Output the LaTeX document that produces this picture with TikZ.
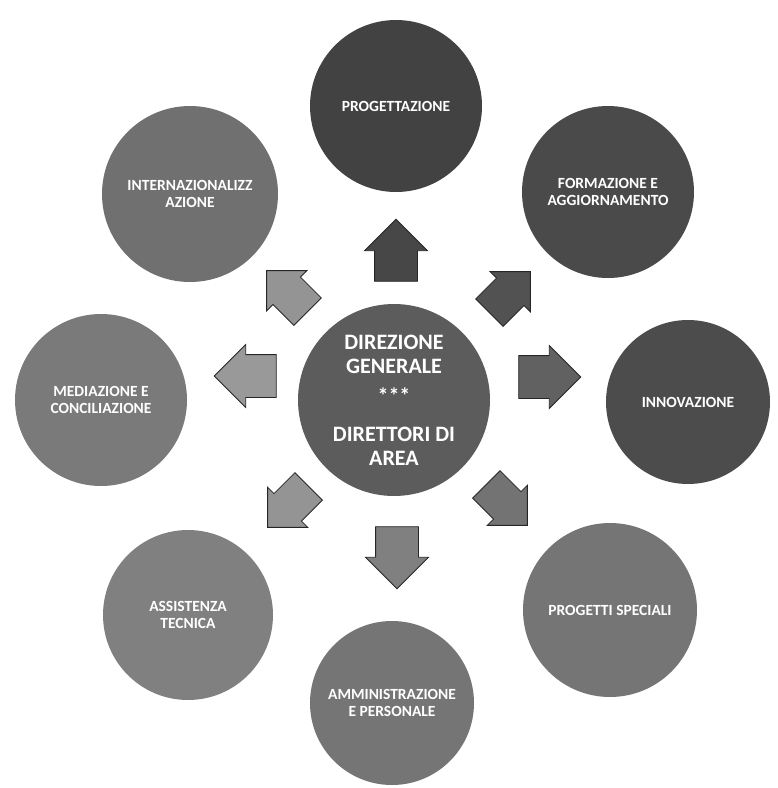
\documentclass[tikz,border=0pt]{standalone}
\usepackage{fontspec}
\setmainfont{Carlito}
\usetikzlibrary{shapes.arrows}

\tikzset{
  area/.style={circle, minimum size=172pt, inner sep=0pt, text=white, align=center,
    font=\bfseries\fontsize{15.5}{17}\selectfont},
  freccia/.style={single arrow, single arrow head extend=10pt, minimum height=62pt,
    inner xsep=0pt, inner ysep=21pt, draw=black!85, line width=0.8pt},
  diag/.style={freccia, minimum height=58pt, inner ysep=19pt, single arrow head extend=9pt},
}

\begin{document}
\begin{tikzpicture}[x=1pt,y=-1pt]
  \useasboundingbox (0,0) rectangle (778,788);

  % centro
  \node[area, fill=black!64, minimum size=192pt, font=\bfseries\fontsize{22}{24}\selectfont] (direzione) at (394,400)
    {DIREZIONE\\GENERALE\\[6pt]***\\[14pt]DIRETTORI DI\\AREA};

  % aree
  \node[area, fill=black!74] (progettazione) at (396,106) {PROGETTAZIONE};
  \node[area, fill=black!71] (formazione) at (608,192) {FORMAZIONE E\\AGGIORNAMENTO};
  \node[area, fill=black!70, minimum size=164pt] (innovazione) at (688,402) {INNOVAZIONE};
  \node[area, fill=black!54, minimum size=174pt] (progetti) at (610,610) {PROGETTI SPECIALI};
  \node[area, fill=black!54, minimum size=164pt] (amministrazione) at (392,703) {AMMINISTRAZIONE\\E PERSONALE};
  \node[area, fill=black!50, minimum size=170pt] (assistenza) at (188,615) {ASSISTENZA\\TECNICA};
  \node[area, fill=black!52] (mediazione) at (101,400) {MEDIAZIONE E\\CONCILIAZIONE};
  \node[area, fill=black!56, minimum size=176pt] (internazionalizzazione) at (190,194) {INTERNAZIONALIZZ\\AZIONE};

  % frecce
  \node[freccia, fill=black!72, rotate=90] (su) at (396,261) {};
  \node[diag, fill=black!68, rotate=45] (nordest) at (503,299) {};
  \node[freccia, fill=black!62, rotate=0] (est) at (539,377) {};
  \node[diag, fill=black!55, rotate=-45] (sudest) at (500,498) {};
  \node[freccia, fill=black!50, rotate=-90] (sud) at (397,547) {};
  \node[diag, fill=black!42, rotate=-135] (sudovest) at (295,500) {};
  \node[freccia, fill=black!40, rotate=180] (ovest) at (256,376) {};
  \node[diag, fill=black!42, rotate=135] (nordovest) at (294,298) {};
\end{tikzpicture}
\end{document}
